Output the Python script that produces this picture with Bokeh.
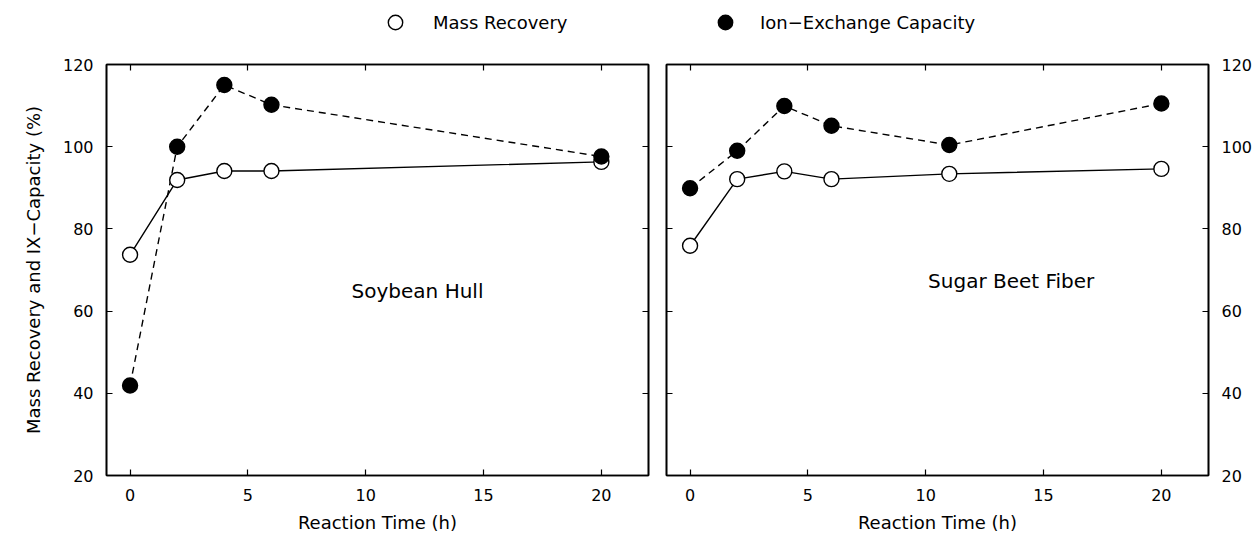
from bokeh.plotting import figure
from bokeh.models import (LinearAxis, FixedTicker, Range1d, Legend, LegendItem, Label,
                          CustomJSTickFormatter)
from bokeh.layouts import row, column
from bokeh.embed import file_html
from bokeh.resources import INLINE

# ---------------- data ----------------
time_soy = [0, 2, 4, 6, 20]
mass_soy = [73.7, 91.9, 94.1, 94.1, 96.3]
ix_soy = [41.9, 100.0, 115.0, 110.2, 97.6]

time_beet = [0, 2, 4, 6, 11, 20]
mass_beet = [75.9, 92.1, 94.0, 92.1, 93.4, 94.6]
ix_beet = [89.9, 99.0, 109.9, 105.1, 100.4, 110.5]

x_ticks = [0, 5, 10, 15, 20]
y_ticks = [20, 40, 60, 80, 100, 120]

series_names = ["Mass Recovery", "Ion\u2212Exchange Capacity"]
panel_names = ["Soybean Hull", "Sugar Beet Fiber"]
x_title = "Reaction Time (h)"
y_title = "Mass Recovery and IX\u2212Capacity (%)"

FONT = "DejaVu Sans"
TOP_H = 40


def style_axis(ax, ticks, labels=True):
    ax.ticker = FixedTicker(ticks=ticks)
    ax.major_tick_in = 6
    ax.major_tick_out = 0
    ax.minor_tick_in = 0
    ax.minor_tick_out = 0
    ax.axis_line_color = "black"
    ax.axis_line_width = 1.6
    ax.major_tick_line_color = "black"
    ax.major_tick_line_width = 1.2
    ax.major_label_text_font = FONT
    ax.major_label_text_color = "black"
    ax.major_label_text_font_size = "16px"
    if labels:
        ax.major_label_standoff = 13
    else:
        ax.formatter = CustomJSTickFormatter(code="return ''")
        ax.major_label_standoff = 0
    ax.axis_label_text_font = FONT
    ax.axis_label_text_font_style = "normal"
    ax.axis_label_text_font_size = "18px"
    ax.axis_label_text_color = "black"


def make_panel(times, mass, ix, name, name_x, name_y, width, bl, br,
               left_labels, right_labels, ylabel=None):
    p = figure(width=width, height=546 - TOP_H, x_range=Range1d(-1, 22), y_range=Range1d(20, 120),
               output_backend="svg", toolbar_location=None,
               x_axis_location=None, y_axis_location=None,
               min_border_left=bl, min_border_right=br,
               min_border_top=64 - TOP_H, min_border_bottom=71)
    p.xgrid.visible = False
    p.ygrid.visible = False
    p.outline_line_color = "black"
    p.outline_line_width = 1.6
    p.outline_line_alpha = 1.0
    p.background_fill_color = "white"
    p.border_fill_color = "white"

    xb = LinearAxis(); style_axis(xb, x_ticks, True)
    xb.axis_label = x_title
    xb.axis_label_standoff = 8
    xt = LinearAxis(); style_axis(xt, x_ticks, False)
    yl = LinearAxis(); style_axis(yl, y_ticks, left_labels)
    yr = LinearAxis(); style_axis(yr, y_ticks, right_labels)
    if ylabel:
        yl.axis_label = ylabel
        yl.axis_label_standoff = 16
    p.add_layout(xb, "below")
    p.add_layout(xt, "above")
    p.add_layout(yl, "left")
    p.add_layout(yr, "right")

    p.line(times, mass, line_color="black", line_width=1.4)
    p.line(times, ix, line_color="black", line_width=1.4, line_dash="7 5")
    p.scatter(times, mass, marker="circle", size=15, fill_color="white",
              line_color="black", line_width=1.4)
    p.scatter(times, ix, marker="circle", size=15, fill_color="black",
              line_color="black", line_width=1.4)

    p.add_layout(Label(x=name_x, y=name_y, text=name, text_font=FONT, text_font_size="20px",
                       text_baseline="middle", text_align="left", text_color="black"))
    return p


p1 = make_panel(time_soy, mass_soy, ix_soy, panel_names[0], 9.4, 65,
                657, 106, 9, True, False, ylabel=y_title)
p2 = make_panel(time_beet, mass_beet, ix_beet, panel_names[1], 10.1, 67.4,
                603, 9, 52, False, True)

# ---------------- legend strip on top ----------------
# the series are plotted here outside the visible range only to provide legend glyphs
lf = figure(width=1260, height=TOP_H, x_range=Range1d(-200, -199), y_range=Range1d(-200, -199),
            output_backend="svg", toolbar_location=None,
            x_axis_location=None, y_axis_location=None, min_border=0)
lf.xgrid.visible = False
lf.ygrid.visible = False
lf.outline_line_color = None
lf.background_fill_color = "white"
lf.border_fill_color = "white"
r_open = lf.scatter(time_soy, mass_soy, marker="circle", size=15, fill_color="white",
                    line_color="black", line_width=1.4)
r_fill = lf.scatter(time_soy, ix_soy, marker="circle", size=15, fill_color="black",
                    line_color="black", line_width=1.4)


def make_legend(item_label, renderer, loc, standoff):
    leg = Legend(items=[LegendItem(label=item_label, renderers=[renderer])],
                 location=loc, orientation="horizontal")
    leg.border_line_color = None
    leg.background_fill_alpha = 0
    leg.padding = 0
    leg.margin = 0
    leg.spacing = 0
    leg.glyph_width = 36
    leg.glyph_height = 36
    leg.label_height = 36
    leg.label_standoff = standoff
    leg.label_text_font = FONT
    leg.label_text_font_size = "18px"
    leg.label_text_color = "black"
    return leg


lf.add_layout(make_legend(series_names[0], r_open, (377, 0), 20))
lf.add_layout(make_legend(series_names[1], r_fill, (707, 0), 17))

layout = column(lf, row(p1, p2, spacing=0), spacing=0)
open("out.html", "w").write(file_html(layout, INLINE))
